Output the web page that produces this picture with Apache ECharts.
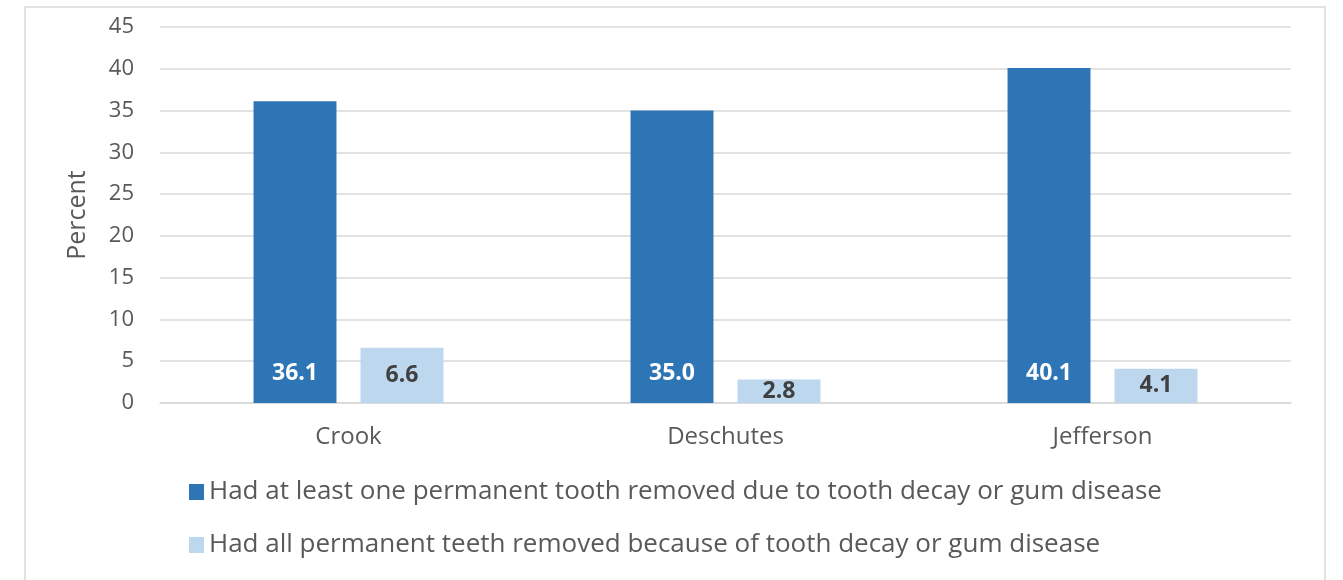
<!DOCTYPE html>
<html>
<head>
<meta charset="utf-8">
<script src="https://cdn.jsdelivr.net/npm/echarts@6/dist/echarts.min.js"></script>
<style>
  html, body { margin: 0; padding: 0; background: #fff; }
  #chart { width: 1343px; height: 580px; }
</style>
</head>
<body>
<div id="chart"></div>
<script>
// counties on the x axis
const counties = ['Crook', 'Deschutes', 'Jefferson']
// percent of adults, by county
const atLeastOne = [36.1, 35.0, 40.1]
const allRemoved = [6.6, 2.8, 4.1]
const seriesNames = [
  'Had at least one permanent tooth removed due to tooth decay or gum disease',
  'Had all permanent teeth removed because of tooth decay or gum disease'
]

const FONT = '"Open Sans", Lato, sans-serif'
const PX_PER_UNIT = 376 / 45
const LABEL_SIZE = 23

// label sits at the bar base, but centres itself in short bars
function withLabels(values) {
  return values.map(v => ({
    value: v,
    label: { distance: Math.min(18, (v * PX_PER_UNIT - LABEL_SIZE) / 2) }
  }))
}

const chart = echarts.init(document.getElementById('chart'), null, { renderer: 'canvas' })

chart.setOption({
  animation: false,
  backgroundColor: '#fff',
  textStyle: { fontFamily: FONT },
  graphic: [{
    type: 'rect',
    shape: { x: 25, y: 7, width: 1300, height: 600 },
    style: { fill: 'none', stroke: '#d9d9d9', lineWidth: 1.5 },
    silent: true
  }],
  grid: { left: 160, right: 52, top: 27, bottom: 177 },
  legend: {
    orient: 'vertical',
    left: 184,
    top: 474,
    itemWidth: 15,
    itemHeight: 16,
    itemGap: 27,
    icon: 'rect',
    textStyle: { fontSize: 26, color: '#595959', fontFamily: FONT },
    data: seriesNames
  },
  xAxis: {
    type: 'category',
    data: counties,
    axisTick: { show: false },
    axisLine: { lineStyle: { color: '#d9d9d9', width: 1.5 } },
    axisLabel: { fontSize: 24, color: '#595959', margin: 22 }
  },
  yAxis: {
    type: 'value',
    min: 0,
    max: 45,
    interval: 5,
    name: 'Percent',
    nameLocation: 'middle',
    nameGap: 70,
    nameRotate: 90,
    nameTextStyle: { fontSize: 25, color: '#595959' },
    axisLabel: { fontSize: 22, color: '#595959', margin: 26 },
    splitLine: { lineStyle: { color: '#d9d9d9', width: 1.5 } }
  },
  series: [
    {
      name: seriesNames[0],
      type: 'bar',
      data: withLabels(atLeastOne),
      barWidth: '22%',
      barGap: '29%',
      itemStyle: { color: '#2e75b6' },
      label: {
        show: true,
        position: 'insideBottom',
        formatter: p => p.value.toFixed(1),
        color: '#fff',
        fontSize: LABEL_SIZE,
        fontWeight: 'bold'
      }
    },
    {
      name: seriesNames[1],
      type: 'bar',
      data: withLabels(allRemoved),
      barWidth: '22%',
      itemStyle: { color: '#bdd7ee' },
      label: {
        show: true,
        position: 'insideBottom',
        formatter: p => p.value.toFixed(1),
        color: '#404040',
        fontSize: LABEL_SIZE,
        fontWeight: 'bold'
      }
    }
  ]
})
</script>
</body>
</html>
